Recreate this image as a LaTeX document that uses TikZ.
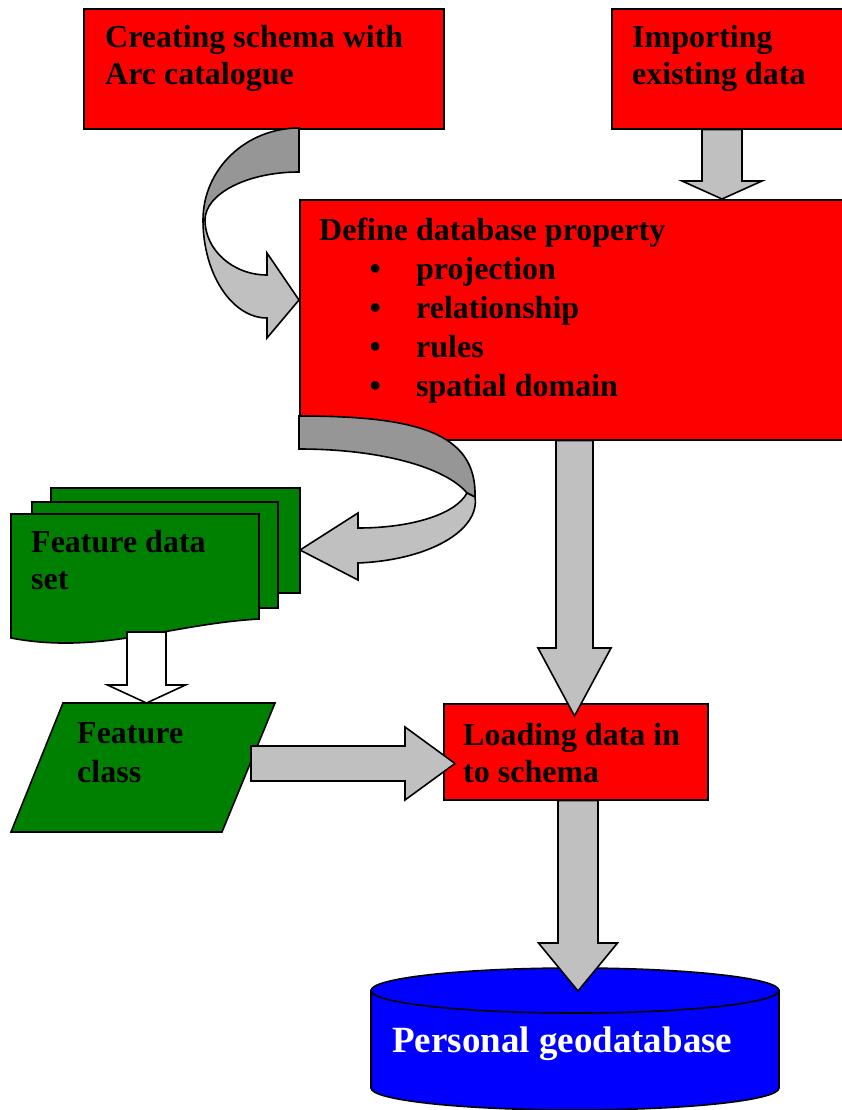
\documentclass[tikz,border=0pt]{standalone}
\usepackage{fontspec}
\setmainfont{Liberation Serif}
\usetikzlibrary{calc}
\definecolor{boxred}{RGB}{255,0,0}
\definecolor{featgreen}{RGB}{0,128,0}
\definecolor{dbblue}{RGB}{0,0,255}
\definecolor{arrowgray}{RGB}{192,192,192}
\definecolor{arrowdark}{RGB}{150,150,150}
\newcommand{\fl}{\rule{0pt}{25pt}}
% vertical block arrow: style, from, to(tip), x centre, half shaft, half head, head length
\newcommand{\vblock}[7]{%
  \draw[#1] let \p1=(#2), \p2=(#3) in
  ({(#4-#5)*1pt},\y1) -- ({(#4+#5)*1pt},\y1) -- ({(#4+#5)*1pt},\y2+#7pt)
  -- ({(#4+#6)*1pt},\y2+#7pt) -- ({#4*1pt},\y2) -- ({(#4-#6)*1pt},\y2+#7pt)
  -- ({(#4-#5)*1pt},\y2+#7pt) -- cycle;}
\begin{document}
\begin{tikzpicture}[x=1pt,y=-1pt,
  redbox/.style={draw=black, line width=1.6pt, fill=boxred, anchor=north west, inner sep=0pt},
  greenbox/.style={draw=black, line width=1.6pt, fill=featgreen, anchor=north west, inner sep=0pt},
  frame/.style={anchor=north west, inner sep=0pt, outer sep=0pt},
  greenshape/.style={draw=black, line width=1.6pt, fill=featgreen, line join=miter},
  blockarrow/.style={draw=black, line width=1.6pt, fill=arrowgray, line join=miter},
  hollowarrow/.style={draw=black, line width=1.6pt, fill=white, line join=miter},
  backband/.style={draw=black, line width=1.6pt, fill=arrowdark, line join=miter},
  lbl/.style={anchor=north west, inner sep=0pt, align=left, font=\fontsize{32}{37}\selectfont\bfseries},
  lbl39/.style={lbl, font=\fontsize{32}{39}\selectfont\bfseries},
  dblbl/.style={anchor=north west, inner sep=0pt, text=white, font=\fontsize{37}{44}\selectfont\bfseries},
  cyl/.style={draw=black, line width=1.6pt, fill=dbblue},
]
\useasboundingbox (0,0) rectangle (841,1110);

% boxes
\node[redbox, minimum width=360pt, minimum height=120pt] (b1) at (83,8) {};
\node[redbox, minimum width=240pt, minimum height=120pt] (b2) at (611,8) {};
\node[redbox, minimum width=550pt, minimum height=240pt] (b3) at (299,199) {};
\node[redbox, minimum width=264pt, minimum height=96pt] (ld) at (443,703) {};

% feature data set (stack of documents)
\node[greenbox, minimum width=249pt, minimum height=105pt] (fds3) at (50,487) {};
\node[greenbox, minimum width=246pt, minimum height=106pt] (fds2) at (31,501) {};
\node[frame, minimum width=248pt, minimum height=105pt] (fds) at (11,514) {};
\draw[greenshape] (fds.north west) -- (fds.north east) -- (fds.south east)
  .. controls (170,624) and (100,655) .. (11,638) -- cycle;

% feature class (parallelogram)
\node[frame, minimum width=264pt, minimum height=129pt] (fc) at (11,703) {};
\draw[greenshape] ($(fc.north west)+(52,0)$) -- (fc.north east)
  -- ($(fc.south east)+(-53,0)$) -- (fc.south west) -- cycle;

% personal geodatabase (cylinder)
\node[frame, minimum width=408pt, minimum height=97.5pt] (db) at (371,990.5) {};
\draw[cyl] (db.north west) -- (db.south west)
  .. controls +(0,12.2) and +(-112.7,0) .. ($(db.south)+(0,22)$)
  .. controls +(112.7,0) and +(0,12.2) .. (db.south east)
  -- (db.north east) -- cycle;
\draw[cyl] (db.north) ellipse [x radius=204, y radius=22.5];

% straight block arrows
\vblock{blockarrow}{b2.south}{b3.north}{722}{20}{40}{18}
\vblock{blockarrow}{b3.south}{$(ld.north)+(0,13)$}{574.5}{18.5}{36.5}{68}
\vblock{blockarrow}{ld.south}{$(db.north)+(0,0.5)$}{578}{20}{39.5}{48}
\vblock{hollowarrow}{$(fds.south)+(0,13)$}{fc.north}{146.5}{19.5}{39}{18}
\draw[blockarrow] let \p1=($(fc.east)+(-24,0)$), \p2=($(ld.west)+(12,0)$) in
  (\x1,-746pt) -- (\x2-50pt,-746pt) -- (\x2-50pt,-727pt) -- (\x2,-763.5pt)
  -- (\x2-50pt,-800pt) -- (\x2-50pt,-781pt) -- (\x1,-781pt) -- cycle;

% curved arrow: schema -> define
\draw[backband] (299,128) -- (299,172) .. controls (247,172) and (205,194) .. (205,220)
  -- (203,220) .. controls (203,169) and (246,128) .. (299,128) -- cycle;
\draw[blockarrow] (203,220) .. controls (203,274) and (232,318) .. (267,318)
  -- (267,338) -- (299,300) -- (267,253) -- (267,275)
  .. controls (233,275) and (205,250) .. (205,220) -- cycle;

% curved arrow: define -> feature data set
\draw[backband] (299,416) -- (299,449) .. controls (380,449) and (445,467) .. (467,493)
  -- (475,497) .. controls (477,432) and (415,416) .. (299,416) -- cycle;
\draw[blockarrow] (475,497) .. controls (480,530) and (430,560) .. (358,563)
  -- (358,580) -- (300,550) -- (358,513) -- (358,528)
  .. controls (410,528) and (455,515) .. (467,493) -- cycle;

% texts
\node[lbl] (t1) at (105,22) {\fl Creating schema with\\Arc catalogue};
\node[lbl] (t2) at (632,22) {\fl Importing\\existing data};
\node[lbl39] (t3) at (319,215) {\fl Define database property\\
  \hspace*{50.5pt}\makebox[46.5pt][l]{\textbullet}projection\\
  \hspace*{50.5pt}\makebox[46.5pt][l]{\textbullet}relationship\\
  \hspace*{50.5pt}\makebox[46.5pt][l]{\textbullet}rules\\
  \hspace*{50.5pt}\makebox[46.5pt][l]{\textbullet}spatial domain};
\node[lbl] (t4) at (31,527) {\fl Feature data\\set};
\node[lbl39] (t5) at (77,718) {\fl Feature\\class};
\node[lbl] (t6) at (463,720) {\fl Loading data in\\to schema};
\node[dblbl] (t7) at (392,1024) {\rule{0pt}{28pt}Personal geodatabase};
\end{tikzpicture}
\end{document}
